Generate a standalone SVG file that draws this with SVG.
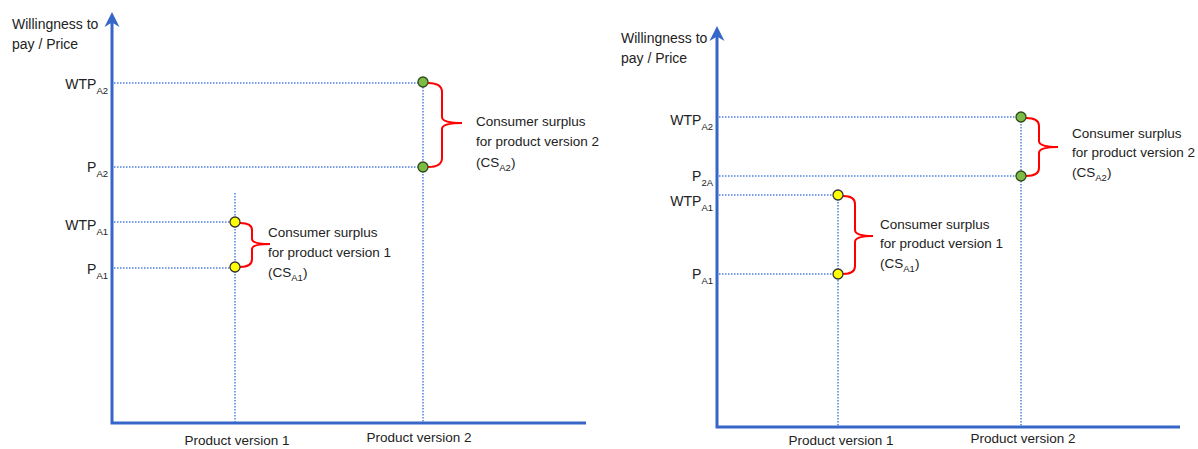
<svg xmlns="http://www.w3.org/2000/svg" width="1198" height="449" viewBox="0 0 1198 449">
<style>
text{font-family:"Liberation Sans",Arial,sans-serif;font-size:13.5px;fill:#222}
.t{font-size:14px}
.sub{font-size:9.5px}
.axis{stroke:#3566c8;stroke-width:3;fill:none}
.head{fill:#3566c8}
.dot{stroke:#4f7fdc;stroke-width:1.5;stroke-dasharray:1.5 1.5;fill:none}
.brace{stroke:#ff0000;stroke-width:2;fill:none}
.g{fill:#7cbb45;stroke:#2f4a1a;stroke-width:1.3}
.y{fill:#ffff00;stroke:#333;stroke-width:1.3}
</style>
<rect width="1198" height="449" fill="#fff"/>

<g id="left-chart">
  <g id="left-axes">
    <path class="axis" d="M112,22 L112,423 L586,423"/>
    <polygon class="head" points="112,12 119.5,27 112,22.5 104.5,27"/>
    <text class="t" x="12" y="29">Willingness to</text>
    <text class="t" x="12" y="49">pay / Price</text>
    <text x="237" y="445" text-anchor="middle">Product version 1</text>
    <text x="419" y="442" text-anchor="middle">Product version 2</text>
    <text class="t" x="108" y="89" text-anchor="end">WTP<tspan class="sub" dy="5">A2</tspan></text>
    <text class="t" x="108" y="172" text-anchor="end">P<tspan class="sub" dy="5">A2</tspan></text>
    <text class="t" x="108" y="230" text-anchor="end">WTP<tspan class="sub" dy="5">A1</tspan></text>
    <text class="t" x="108" y="274" text-anchor="end">P<tspan class="sub" dy="5">A1</tspan></text>
  </g>
  <g id="left-guides">
    <path class="dot" d="M114,83 L418,83 M114,167 L418,167 M114,222 L230,222 M114,268 L230,268"/>
    <path class="dot" d="M423,87 L423,422 M235,193 L235,422"/>
  </g>
  <g id="left-v2">
    <path class="brace" d="M428,83 Q442,83 442,92 L442,117 Q442,123 462,123 Q442,123 442,129 L442,158 Q442,167 428,167"/>
    <circle class="g" cx="423" cy="82" r="5"/>
    <circle class="g" cx="423" cy="167" r="5"/>
    <text x="476" y="126">Consumer surplus</text>
    <text x="476" y="146">for product version 2</text>
    <text x="476" y="167">(CS<tspan class="sub" dy="4">A2</tspan><tspan dy="-4">)</tspan></text>
  </g>
  <g id="left-v1">
    <path class="brace" d="M240,223 Q252,223 252,230 L252,239 Q252,244 270,244 Q252,244 252,249 L252,259 Q252,267 240,267"/>
    <circle class="y" cx="235" cy="222" r="5"/>
    <circle class="y" cx="235" cy="267" r="5"/>
    <text x="268" y="237">Consumer surplus</text>
    <text x="268" y="257">for product version 1</text>
    <text x="268" y="277">(CS<tspan class="sub" dy="4">A1</tspan><tspan dy="-4">)</tspan></text>
  </g>
</g>

<g id="right-chart">
  <g id="right-axes">
    <path class="axis" d="M717,36 L717,427 L1180,427"/>
    <polygon class="head" points="717,26 724.5,41 717,36.5 709.5,41"/>
    <text class="t" x="621" y="43">Willingness to</text>
    <text class="t" x="621" y="63">pay / Price</text>
    <text x="841" y="445" text-anchor="middle">Product version 1</text>
    <text x="1023" y="443" text-anchor="middle">Product version 2</text>
    <text class="t" x="713" y="125" text-anchor="end">WTP<tspan class="sub" dy="5">A2</tspan></text>
    <text class="t" x="713" y="181" text-anchor="end">P<tspan class="sub" dy="5">2A</tspan></text>
    <text class="t" x="713" y="206" text-anchor="end">WTP<tspan class="sub" dy="5">A1</tspan></text>
    <text class="t" x="713" y="279" text-anchor="end">P<tspan class="sub" dy="5">A1</tspan></text>
  </g>
  <g id="right-guides">
    <path class="dot" d="M719,117 L1016,117 M719,176 L1016,176 M719,195 L833,195 M719,274 L833,274"/>
    <path class="dot" d="M1021,121 L1021,426 M838,199 L838,426"/>
  </g>
  <g id="right-v2">
    <path class="brace" d="M1026,118 Q1039,118 1039,126 L1039,141 Q1039,147 1058,147 Q1039,147 1039,153 L1039,168 Q1039,176 1026,176"/>
    <circle class="g" cx="1021" cy="117" r="5"/>
    <circle class="g" cx="1021" cy="176" r="5"/>
    <text x="1072" y="138">Consumer surplus</text>
    <text x="1072" y="157">for product version 2</text>
    <text x="1072" y="177">(CS<tspan class="sub" dy="4">A2</tspan><tspan dy="-4">)</tspan></text>
  </g>
  <g id="right-v1">
    <path class="brace" d="M843,196 Q855,196 855,204 L855,230 Q855,236 873,236 Q855,236 855,242 L855,266 Q855,274 843,274"/>
    <circle class="y" cx="838" cy="195" r="5"/>
    <circle class="y" cx="838" cy="274" r="5"/>
    <text x="880" y="229">Consumer surplus</text>
    <text x="880" y="248">for product version 1</text>
    <text x="880" y="268">(CS<tspan class="sub" dy="4">A1</tspan><tspan dy="-4">)</tspan></text>
  </g>
</g>
</svg>
